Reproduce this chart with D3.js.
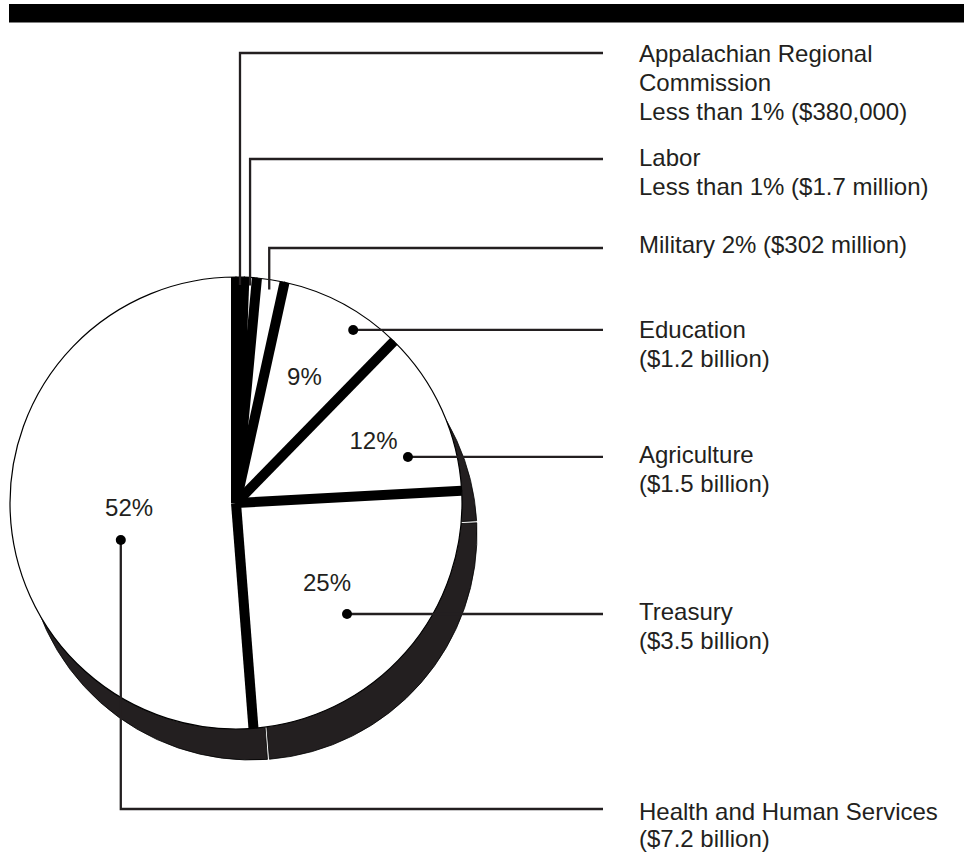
<!DOCTYPE html>
<html><head><meta charset="utf-8">
<script src="https://cdn.jsdelivr.net/npm/d3@7"></script>
<style>body{margin:0;background:#fff} svg{display:block}</style>
</head><body>
<svg id="chart" width="964" height="852"></svg>
<script>
// ---- data ----
const categories = ["Appalachian Regional Commission", "Labor", "Military", "Education", "Agriculture", "Treasury", "Health and Human Services"];
const shares = [0.6, 0.9, 2, 9, 12, 25, 52];           // drawn share of the pie, %
const percentLabels = ["", "", "", "9%", "12%", "25%", "52%"];
const legendLines = [
  ["Appalachian Regional", "Commission", "Less than 1% ($380,000)"],
  ["Labor", "Less than 1% ($1.7 million)"],
  ["Military 2% ($302 million)"],
  ["Education", "($1.2 billion)"],
  ["Agriculture", "($1.5 billion)"],
  ["Treasury", "($3.5 billion)"],
  ["Health and Human Services", "($7.2 billion)"]
];

// ---- layout ----
const W = 964, H = 852;
const cx = 236, cy = 503, R = 226;
const shadowDx = 15, shadowDy = 31;
const ink = "#231f20";
const font = "'Liberation Sans', Arial, Helvetica, sans-serif";
const fontSize = 24, lineH = 29;
const leaderEndX = 603, textX = 639;
// annotation anchors: polar (deg, radius) around pie centre; leaderY = y of horizontal leader; textY = first baseline
const anchors = [
  {deg: 1.05, r: 218, leaderY: 53,  textY: 62,  lh: 29, mode: "up"},
  {deg: 3.7,  r: 218, leaderY: 159, textY: 166, lh: 29, mode: "up"},
  {deg: 8.85, r: 216, leaderY: 248, textY: 253, lh: 29, mode: "up"},
  {deg: 34.1, r: 209, leaderY: null, textY: 338, lh: 29, mode: "flat"},
  {deg: 75.0, r: 178, leaderY: null, textY: 463, lh: 29, mode: "flat"},
  {deg: 135,  r: 157, leaderY: null, textY: 620, lh: 29, mode: "flat"},
  {deg: 252.2, r: 121, leaderY: 809, textY: 820, lh: 27, mode: "down"}
];
const pctRadius = [0, 0, 0, 144, 151, 121, 107];

const svg = d3.select("#chart");

// top bar
svg.append("rect").attr("x", 9).attr("y", 4).attr("width", W - 9).attr("height", 18.5).attr("fill", "#000");

const pie = d3.pie().sort(null).value(d => d).startAngle(0).endAngle(2 * Math.PI);
const arcs = pie(shares);
const arcFace = d3.arc().innerRadius(0).outerRadius(R);
const arcShadow = d3.arc().innerRadius(0).outerRadius(R).padAngle(0.009);

const g = svg.append("g");

// shadows (depth)
g.append("g").attr("transform", `translate(${cx + shadowDx},${cy + shadowDy})`)
  .selectAll("path").data(arcs).join("path")
  .attr("d", arcShadow).attr("fill", ink).attr("stroke", "#000").attr("stroke-width", 0.8);

// faces
g.append("g").attr("transform", `translate(${cx},${cy})`)
  .selectAll("path").data(arcs).join("path")
  .attr("d", arcFace).attr("fill", "#fff").attr("stroke", "#000").attr("stroke-width", 1.2);

// thick black separators between slices
g.append("g").attr("transform", `translate(${cx},${cy})`)
  .selectAll("line").data(arcs).join("line")
  .attr("x1", 0).attr("y1", 0)
  .attr("x2", d => d3.pointRadial(d.startAngle, R)[0])
  .attr("y2", d => d3.pointRadial(d.startAngle, R)[1])
  .attr("stroke", "#000").attr("stroke-width", 10);

// percent labels
g.append("g").selectAll("text").data(arcs.filter((d, i) => percentLabels[i]))
  .join("text")
  .attr("x", d => cx + d3.pointRadial((d.startAngle + d.endAngle) / 2, pctRadius[d.index])[0])
  .attr("y", d => cy + d3.pointRadial((d.startAngle + d.endAngle) / 2, pctRadius[d.index])[1])
  .attr("dy", "0.35em").attr("text-anchor", "middle")
  .attr("font-family", font).attr("font-size", fontSize).attr("fill", ink)
  .text(d => percentLabels[d.index]);

// leaders
const lg = svg.append("g");
categories.forEach((c, i) => {
  const a = anchors[i];
  const p = d3.pointRadial(a.deg * Math.PI / 180, a.r);
  const px = cx + p[0], py = cy + p[1];
  let pts;
  if (a.mode === "flat") pts = [[px, py], [leaderEndX, py]];
  else pts = [[px, py], [px, a.leaderY], [leaderEndX, a.leaderY]];
  lg.append("path").attr("d", d3.line()(pts)).attr("fill", "none")
    .attr("stroke", ink).attr("stroke-width", 2.3);
  if (a.mode !== "up") {
    lg.append("circle").attr("cx", px).attr("cy", py).attr("r", 5).attr("fill", "#000");
  }
  const t = lg.append("text").attr("font-family", font).attr("font-size", fontSize).attr("fill", ink);
  legendLines[i].forEach((ln, k) => {
    t.append("tspan").attr("x", textX).attr("y", a.textY + k * a.lh).text(ln);
  });
});
</script>
</body></html>
